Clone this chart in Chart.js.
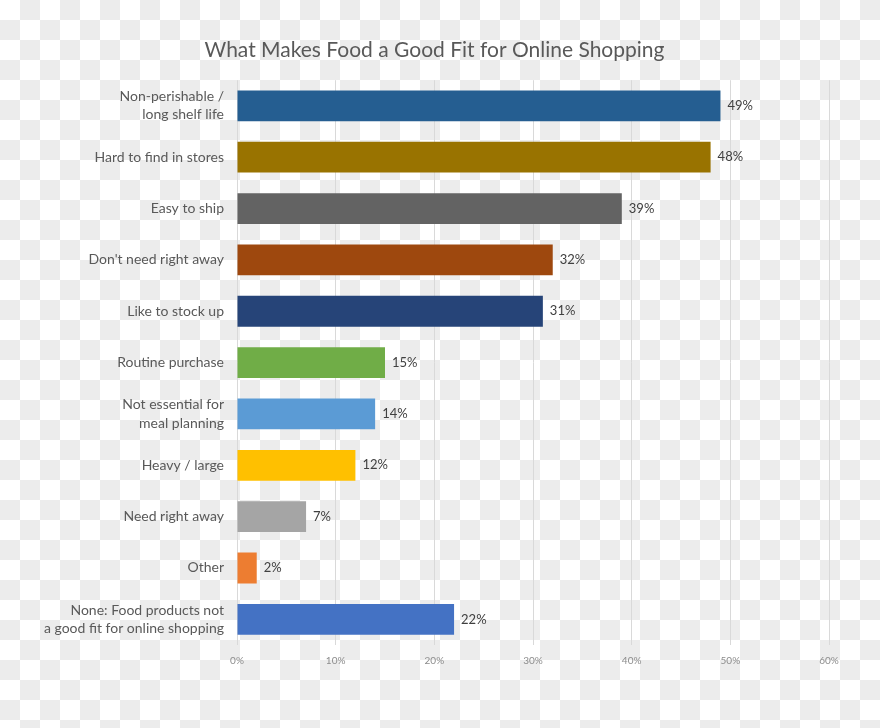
<!DOCTYPE html>
<html>
<head>
<meta charset="utf-8">
<script src="https://cdn.jsdelivr.net/npm/chart.js@4/dist/chart.umd.min.js"></script>
<style>
  html, body {
    margin: 0;
    padding: 0;
  }
  body {
    width: 880px;
    height: 728px;
    background: repeating-conic-gradient(#ececec 0 25%, #ffffff 0 50%) 0 0 / 40px 40px;
  }
  #wrap {
    width: 880px;
    height: 728px;
  }
</style>
</head>
<body>
<div id="wrap"><canvas id="grafica"></canvas></div>
<script>
const categorias = [
    ['Non-perishable /', 'long shelf life'],
    'Hard to find in stores',
    'Easy to ship',
    "Don't need right away",
    'Like to stock up',
    'Routine purchase',
    ['Not essential for', 'meal planning'],
    'Heavy / large',
    'Need right away',
    'Other',
    ['None: Food products not', 'a good fit for online shopping']
];
const valores = [49, 48, 39, 32, 31, 15, 14, 12, 7, 2, 22];
const colores = [
    '#255e91', '#997300', '#636363', '#9e480e', '#264478', '#70ad47',
    '#5b9bd5', '#ffc000', '#a5a5a5', '#ed7d31', '#4472c4'
];
const ticksX = [0, 10, 20, 30, 40, 50, 60];

const fuente = "Lato, 'Open Sans', sans-serif";

// etiquetas de porcentaje al final de cada barra
const etiquetasBarras = {
    id: 'etiquetasBarras',
    afterDatasetsDraw(chart) {
        const ctx = chart.ctx;
        const meta = chart.getDatasetMeta(0);
        ctx.save();
        ctx.font = '13px ' + fuente;
        ctx.fillStyle = '#404040';
        ctx.textAlign = 'left';
        ctx.textBaseline = 'middle';
        meta.data.forEach((bar, i) => {
            ctx.fillText(valores[i] + '%', bar.x + 7, bar.y);
        });
        ctx.restore();
    }
};

const ctx = document.getElementById('grafica').getContext('2d');

new Chart(ctx, {
    type: 'bar',
    data: {
        labels: categorias,
        datasets: [{
            data: valores,
            backgroundColor: colores,
            borderWidth: 0,
            categoryPercentage: 1,
            barPercentage: 0.6
        }]
    },
    options: {
        indexAxis: 'y',
        responsive: true,
        maintainAspectRatio: false,
        animation: false,
        layout: {
            padding: { top: 38, right: 51, bottom: 51, left: 40 }
        },
        scales: {
            x: {
                min: 0,
                max: 60,
                afterBuildTicks: scale => {
                    scale.ticks = ticksX.map(v => ({ value: v }));
                },
                ticks: {
                    callback: v => v + '%',
                    color: '#8c8c8c',
                    font: { family: fuente, size: 10 },
                    padding: 10,
                    maxRotation: 0
                },
                grid: {
                    color: '#d9d9d9',
                    lineWidth: 1,
                    drawTicks: false
                },
                border: { display: false }
            },
            y: {
                afterFit: scale => {
                    scale.width = 197;
                },
                ticks: {
                    color: '#595959',
                    font: { family: fuente, size: 14, lineHeight: 1.3 },
                    padding: 13
                },
                grid: { display: false, drawTicks: false },
                border: { display: false }
            }
        },
        plugins: {
            legend: { display: false },
            tooltip: { enabled: false },
            title: {
                display: true,
                text: 'What Makes Food a Good Fit for Online Shopping',
                color: '#595959',
                font: { family: fuente, size: 21, weight: 'normal' },
                padding: { top: 0, bottom: 17 }
            }
        }
    },
    plugins: [etiquetasBarras]
});
</script>
</body>
</html>
